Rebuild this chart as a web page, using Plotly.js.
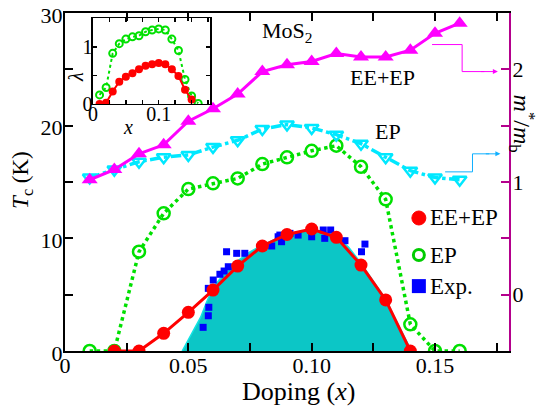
<!DOCTYPE html>
<html>
<head>
<meta charset="utf-8">
<script src="https://cdn.plot.ly/plotly-3.0.1.min.js"></script>
<style>
  html, body { margin: 0; padding: 0; background: #fff; }
  #chart { width: 539px; height: 407px; }
</style>
</head>
<body>
<div id="chart"></div>
<script>
// Doping grid used by the calculations
const dopingFull = [0.01, 0.02, 0.03, 0.04, 0.05, 0.06, 0.07, 0.08, 0.09, 0.10, 0.11, 0.12, 0.13, 0.14, 0.15, 0.16];
const dopingEEEP = [0.02, 0.03, 0.04, 0.05, 0.06, 0.07, 0.08, 0.09, 0.10, 0.11, 0.12, 0.13, 0.14];
const dopingLambdaEEEP = [0.01, 0.02, 0.03, 0.04, 0.05, 0.06, 0.07, 0.08, 0.09, 0.10, 0.11, 0.12, 0.13, 0.14, 0.15];

// Critical temperature Tc (K)
const tcEEEP = [0, 0, 1.57, 3.43, 5.41, 7.54, 9.32, 10.34, 10.83, 10.09, 7.63, 4.53, 0];
const tcEP = [0, 0, 8.81, 12.22, 14.37, 14.88, 15.32, 16.59, 17.19, 17.77, 18.22, 16.35, 13.46, 2.37, 0, 0];

// Effective mass enhancement m*/m_b
const massEP = [1.04, 1.11, 1.18, 1.22, 1.24, 1.31, 1.37, 1.47, 1.51, 1.48, 1.42, 1.34, 1.22, 1.10, 1.04, 1.02];
const massEEEP = [1.02, 1.11, 1.25, 1.33, 1.54, 1.65, 1.78, 1.98, 2.04, 2.07, 2.14, 2.11, 2.11, 2.17, 2.32, 2.41];

// Experimental Tc points
const expDoping = [0.0560, 0.0581, 0.0583, 0.0581, 0.0601, 0.0628, 0.0645, 0.0655, 0.0662, 0.0696, 0.0729, 0.0838, 0.0864, 0.0871, 0.0878, 0.0912, 0.0945, 0.1000, 0.1047, 0.1053, 0.1077, 0.1135, 0.1202, 0.1216];
const expTc = [2.10, 3.13, 3.88, 5.56, 6.30, 6.81, 7.10, 8.81, 7.48, 8.67, 8.67, 9.32, 10.14, 10.29, 9.70, 10.44, 10.29, 10.14, 10.74, 10.00, 10.74, 9.79, 8.81, 9.49];

// Experimental superconducting dome outline
const domeDoping = [0.0475, 0.050, 0.0525, 0.055, 0.0575, 0.060, 0.065, 0.070, 0.075, 0.080, 0.085, 0.090, 0.095, 0.100, 0.105, 0.110, 0.115, 0.120, 0.125, 0.130, 0.135, 0.1405];
const domeTc = [0, 1.0, 2.0, 3.0, 4.4, 5.6, 7.0, 8.0, 8.8, 9.4, 9.9, 10.3, 10.6, 10.7, 10.6, 10.2, 9.2, 7.8, 6.2, 4.6, 2.4, 0];

// Coupling constant lambda (inset)
const lambdaEP = [0.16, 0.29, 0.89, 1.06, 1.14, 1.18, 1.20, 1.27, 1.30, 1.32, 1.30, 1.14, 0.94, 0.43, 0.14, 0.01];
const lambdaEEEP = [0, 0.02, 0.22, 0.39, 0.48, 0.54, 0.61, 0.67, 0.70, 0.72, 0.70, 0.61, 0.49, 0.25, 0.08];

// Tick labels
const xTickVals = [0, 0.025, 0.05, 0.075, 0.10, 0.125, 0.15, 0.175];
const xTickText = ['0', '', '0.05', '', '0.10', '', '0.15', ''];
const yTickVals = [0, 5, 10, 15, 20, 25, 30];
const yTickText = ['0', '', '10', '', '20', '', '30'];
const y2TickVals = [-0.5, 0, 0.5, 1, 1.5, 2, 2.5];
const y2TickText = ['', '0', '', '1', '', '2', ''];
const insetXTickVals = [0, 0.025, 0.05, 0.075, 0.10, 0.125, 0.15, 0.175];
const insetXTickText = ['0', '', '', '', '0.1', '', '', ''];
const insetYTickVals = [0, 0.5, 1, 1.5];
const insetYTickText = ['0', '', '1', ''];

const RED = '#ff0000';
const GREEN = '#00e000';
const CYAN = '#00e8ff';
const MAGENTA = '#ff00ff';
const BLUE = '#0000ff';
const TEAL = '#0cc6c6';
const AXIS2 = '#b4008c';
const FONT = '"Liberation Serif", "Times New Roman", serif';

const traces = [
  { // experimental dome
    x: domeDoping, y: domeTc, xaxis: 'x', yaxis: 'y',
    mode: 'lines', fill: 'toself', fillcolor: TEAL,
    line: { color: '#10e4e4', width: 1.5 }, hoverinfo: 'skip', showlegend: false
  },
  { // experimental points
    x: expDoping, y: expTc, xaxis: 'x', yaxis: 'y', mode: 'markers',
    marker: { symbol: 'square', size: 7, color: BLUE }, showlegend: false
  },
  { // EP Tc
    x: dopingFull, y: tcEP, xaxis: 'x', yaxis: 'y', mode: 'lines+markers',
    line: { color: GREEN, width: 3.5, dash: 'dot' },
    marker: { symbol: 'circle-open', size: 12, color: GREEN, line: { width: 2.5, color: GREEN } },
    showlegend: false
  },
  { // EE+EP Tc
    x: dopingEEEP, y: tcEEEP, xaxis: 'x', yaxis: 'y', mode: 'lines+markers',
    line: { color: RED, width: 3 },
    marker: { symbol: 'circle', size: 13, color: RED }, showlegend: false
  },
  { // EP mass
    x: dopingFull, y: massEP, xaxis: 'x', yaxis: 'y2', mode: 'lines+markers',
    line: { color: CYAN, width: 3.5, dash: 'dashdot' },
    marker: { symbol: 'triangle-down-open', size: 12, color: CYAN, line: { width: 2.5, color: CYAN } },
    showlegend: false
  },
  { // EE+EP mass
    x: dopingFull, y: massEEEP, xaxis: 'x', yaxis: 'y2', mode: 'lines+markers',
    line: { color: MAGENTA, width: 3 },
    marker: { symbol: 'triangle-up', size: 14, color: MAGENTA }, showlegend: false
  },
  { // inset EP lambda
    x: dopingFull, y: lambdaEP, xaxis: 'x3', yaxis: 'y3', mode: 'lines+markers',
    line: { color: GREEN, width: 2, dash: 'dot' },
    marker: { symbol: 'circle-open', size: 7, color: GREEN, line: { width: 2, color: GREEN } },
    showlegend: false
  },
  { // inset EE+EP lambda
    x: dopingLambdaEEEP, y: lambdaEEEP, xaxis: 'x3', yaxis: 'y3', mode: 'lines+markers',
    line: { color: RED, width: 2 },
    marker: { symbol: 'circle', size: 8, color: RED }, showlegend: false
  }
];

const axisCommon = {
  showgrid: false, zeroline: false, showline: true, linecolor: '#000',
  ticks: 'inside', tickcolor: '#000', tickmode: 'array'
};

const layout = {
  width: 539, height: 407,
  margin: { l: 65, r: 30, t: 13, b: 56 },
  paper_bgcolor: '#fff', plot_bgcolor: 'rgba(0,0,0,0)',
  font: { family: FONT, size: 22, color: '#000' },
  showlegend: false,
  xaxis: Object.assign({}, axisCommon, {
    domain: [0, 1], anchor: 'y', range: [0, 0.18],
    linewidth: 2, tickwidth: 2, ticklen: 8, mirror: 'ticks',
    tickvals: xTickVals, ticktext: xTickText, ticklabelstandoff: -6
  }),
  yaxis: Object.assign({}, axisCommon, {
    domain: [0, 1], anchor: 'x', range: [0, 30],
    linewidth: 2, tickwidth: 2, ticklen: 8,
    tickvals: yTickVals, ticktext: yTickText, ticklabelstandoff: -4, ticklabelshift: 2
  }),
  yaxis2: Object.assign({}, axisCommon, {
    overlaying: 'y', side: 'right', anchor: 'x', range: [-0.5, 2.5],
    linecolor: AXIS2, tickcolor: AXIS2, linewidth: 2, tickwidth: 2, ticklen: 8,
    tickvals: y2TickVals, ticktext: y2TickText, ticklabelstandoff: -3
  }),
  xaxis3: Object.assign({}, axisCommon, {
    domain: [0.063, 0.3266], anchor: 'y3', range: [0, 0.178],
    linewidth: 1.5, tickwidth: 1.5, ticklen: 4, mirror: 'ticks',
    tickvals: insetXTickVals, ticktext: insetXTickText,
    tickfont: { size: 20 }, ticklabelstandoff: -8
  }),
  yaxis3: Object.assign({}, axisCommon, {
    domain: [0.7308, 0.985], anchor: 'x3', range: [0, 1.51],
    linewidth: 1.5, tickwidth: 1.5, ticklen: 4, mirror: 'ticks',
    tickvals: insetYTickVals, ticktext: insetYTickText,
    tickfont: { size: 20 }, ticklabelstandoff: -5
  }),
  shapes: [
    // bent pointer from the EE+EP mass curve to the right axis
    { type: 'path', xref: 'x', yref: 'y2', path: 'M 0.1488,2.22 L 0.161,2.22 L 0.161,1.98 L 0.170,1.98',
      line: { color: MAGENTA, width: 1 } },
    // bent pointer from the EP mass curve to the right axis
    { type: 'path', xref: 'x', yref: 'y2', path: 'M 0.1541,1.09 L 0.1652,1.09 L 0.1652,1.25 L 0.172,1.25',
      line: { color: '#10b0ff', width: 1 } },
    // legend swatches
    { type: 'circle', xref: 'paper', yref: 'paper', xsizemode: 'pixel', ysizemode: 'pixel',
      xanchor: 0.797, yanchor: 0.3935, x0: -7, x1: 7, y0: -7, y1: 7,
      fillcolor: RED, line: { color: RED, width: 1 } },
    { type: 'circle', xref: 'paper', yref: 'paper', xsizemode: 'pixel', ysizemode: 'pixel',
      xanchor: 0.797, yanchor: 0.284, x0: -5.5, x1: 5.5, y0: -5.5, y1: 5.5,
      fillcolor: 'rgba(0,0,0,0)', line: { color: '#00cc00', width: 3 } },
    { type: 'rect', xref: 'paper', yref: 'paper', xsizemode: 'pixel', ysizemode: 'pixel',
      xanchor: 0.797, yanchor: 0.192, x0: -7, x1: 7, y0: -7, y1: 7,
      fillcolor: BLUE, line: { color: BLUE, width: 0 } }
  ],
  annotations: [
    { xref: 'x', yref: 'y2', x: 0.1755, y: 1.98, ax: 0.168, ay: 1.98, axref: 'x', ayref: 'y2',
      text: '', showarrow: true, arrowhead: 2, arrowsize: 1, arrowwidth: 1, arrowcolor: MAGENTA },
    { xref: 'x', yref: 'y2', x: 0.1765, y: 1.25, ax: 0.170, ay: 1.25, axref: 'x', ayref: 'y2',
      text: '', showarrow: true, arrowhead: 2, arrowsize: 1, arrowwidth: 1, arrowcolor: '#10b0ff' },
    // axis titles
    { xref: 'paper', yref: 'paper', x: 0.525, y: -0.12, text: 'Doping (<i>x</i>)', showarrow: false,
      xanchor: 'center', yanchor: 'middle', font: { size: 26 } },
    { xref: 'paper', yref: 'paper', x: -0.097, y: 0.506, text: '<i>T</i><sub>c</sub> (K)', showarrow: false,
      textangle: -90, xanchor: 'center', yanchor: 'middle', font: { size: 23 } },
    { xref: 'paper', yref: 'paper', x: 1.03, y: 0.672, text: '<i>m</i><sup>*</sup>/<i>m</i><sub>b</sub>',
      textangle: 90, showarrow: false, xanchor: 'center', yanchor: 'middle', font: { size: 24 } },
    // inset axis titles
    { xref: 'paper', yref: 'paper', x: (128 - 65) / 444, y: (351 - 127) / 338, text: '<i>x</i>', showarrow: false,
      xanchor: 'center', yanchor: 'middle', font: { size: 20 } },
    { xref: 'paper', yref: 'paper', x: (76 - 65) / 444, y: (351 - 77) / 338, text: '<i>λ</i>', showarrow: false,
      textangle: -90, xanchor: 'center', yanchor: 'middle', font: { size: 20 } },
    // in-plot labels
    { xref: 'paper', yref: 'paper', x: 0.5, y: 0.945, text: 'MoS<sub>2</sub>', showarrow: false,
      xanchor: 'center', yanchor: 'middle' },
    { xref: 'paper', yref: 'paper', x: 0.716, y: 0.808, text: 'EE+EP', showarrow: false,
      xanchor: 'center', yanchor: 'middle' },
    { xref: 'paper', yref: 'paper', x: 0.7275, y: 0.648, text: 'EP', showarrow: false,
      xanchor: 'center', yanchor: 'middle' },
    // legend labels
    { xref: 'paper', yref: 'paper', x: 0.818, y: 0.3935, text: 'EE+EP', showarrow: false,
      xanchor: 'left', yanchor: 'middle', font: { size: 23 } },
    { xref: 'paper', yref: 'paper', x: 0.818, y: 0.284, text: 'EP', showarrow: false,
      xanchor: 'left', yanchor: 'middle', font: { size: 23 } },
    { xref: 'paper', yref: 'paper', x: 0.818, y: 0.192, text: 'Exp.', showarrow: false,
      xanchor: 'left', yanchor: 'middle', font: { size: 23 } }
  ]
};

Plotly.newPlot('chart', traces, layout, { staticPlot: true, displayModeBar: false });
</script>
</body>
</html>
